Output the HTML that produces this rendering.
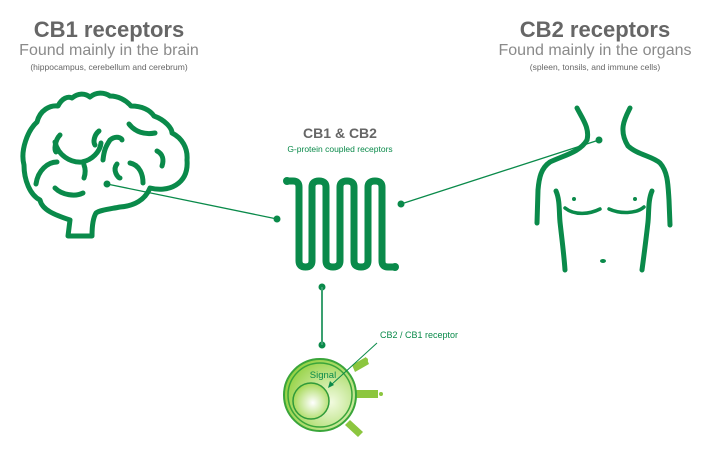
<!DOCTYPE html>
<html><head><style>
body{margin:0;background:#fff;width:706px;height:460px;overflow:hidden;font-family:"Liberation Sans",sans-serif}
</style></head><body>
<svg width="706" height="460" xmlns="http://www.w3.org/2000/svg">
<defs>
<radialGradient id="g1" cx="0.65" cy="0.6" r="0.7"><stop offset="0" stop-color="#f2fbe0"/><stop offset="1" stop-color="#8fcf3a"/></radialGradient>
<radialGradient id="g2" cx="0.55" cy="0.55" r="0.6"><stop offset="0" stop-color="#ffffff"/><stop offset="1" stop-color="#9fd64a"/></radialGradient>
</defs>
<g font-family="Liberation Sans, sans-serif" text-anchor="middle">
<text x="109" y="37" font-size="22" font-weight="bold" fill="#666">CB1 receptors</text>
<text x="109" y="55" font-size="16" fill="#8a8a8a">Found mainly in the brain</text>
<text x="109" y="70" font-size="8.5" fill="#666">(hippocampus, cerebellum and cerebrum)</text>
<text x="595" y="37" font-size="22" font-weight="bold" fill="#666">CB2 receptors</text>
<text x="595" y="55" font-size="16" fill="#8a8a8a">Found mainly in the organs</text>
<text x="595" y="70" font-size="8.5" fill="#666">(spleen, tonsils, and immune cells)</text>
<text x="340" y="138" font-size="14" font-weight="bold" fill="#666">CB1 &amp; CB2</text>
<text x="340" y="152" font-size="8.5" fill="#0a8a4a">G-protein coupled receptors</text>
</g>
<g fill="none" stroke="#0a8a4a" stroke-width="5" stroke-linecap="round" stroke-linejoin="round">
<path d="M68 236 L70 220 C55 215 42 210 40 200 C30 195 24 180 24 165 C20 150 28 130 37 122 C40 110 50 105 58 106 C62 98 68 96 72 98 C78 93 85 93 90 97 C96 92 104 92 110 96 C118 96 126 100 131 106 C142 106 150 110 154 116 C165 120 172 128 172 133 C182 138 188 148 187 160 C188 172 184 180 176 185 C168 190 158 190 150 188 C145 200 134 206 120 207 C110 209 100 210 96 213 C93 218 92 226 92 236 Z"/>
<path d="M36 184 C38 170 48 162 57 162"/>
<path d="M55 142 C58 155 70 163 82 162 C92 160 100 152 101 143"/>
<path d="M60 135 C55 140 54 150 56 152"/>
<path d="M99 131 C94 135 93 142 95 145"/>
<path d="M103 160 C104 150 106 146 110 140 C116 135 122 138 122 140"/>
<path d="M129 124 C135 132 145 135 155 133"/>
<path d="M117 164 C112 170 118 178 120 178"/>
<path d="M130 163 C140 165 143 175 143 183"/>
<path d="M55 188 C62 195 75 197 83 193"/>
<path d="M84 165 C86 170 85 175 84 178"/>
<path d="M157 151 C163 154 164 160 162 166"/>
<path d="M577 108 C582 118 590 128 587 140 C580 152 565 155 550 162 C541 168 539 178 538 190 L537 223"/>
<path d="M630 108 C625 118 618 130 628 146 C638 155 652 156 660 163 C668 172 668 185 669 200 L670 225"/>
<path d="M556 191 C560 200 559 212 560 222 C562 240 564 255 565 270"/>
<path d="M652 191 C648 200 649 212 648 222 C646 240 644 255 642 270"/>
<path d="M565 208 C575 216 590 214 600 209" stroke-width="3.5"/>
<path d="M609 209 C620 214 636 214 644 207" stroke-width="3.5"/>
<path d="M287 181 L293 181 Q299 181 299 187 L299 261 Q299 267 305.5 267 Q312 267 312 261 L312 187 Q312 181 319 181 Q326 181 326 187 L326 261 Q326 267 333 267 Q340 267 340 261 L340 187 Q340 181 347 181 Q354 181 354 187 L354 261 Q354 267 361 267 Q368 267 368 261 L368 187 Q368 181 375 181 Q382 181 382 187 L382 261 Q382 267 388 267 L395 267" stroke-width="7"/>
</g>
<g fill="#0a8a4a">
<circle cx="287" cy="181" r="4"/><circle cx="395" cy="267" r="4"/>
<circle cx="574" cy="199" r="2"/><circle cx="635" cy="199" r="2"/>
<ellipse cx="603" cy="261" rx="3" ry="2"/>
<circle cx="107" cy="184" r="3.5"/><circle cx="277" cy="219" r="3.5"/>
<circle cx="401" cy="204" r="3.5"/><circle cx="599" cy="140" r="3.5"/>
<circle cx="322" cy="287" r="3.5"/><circle cx="322" cy="345" r="3.5"/>
</g>
<g stroke="#0a8a4a" stroke-width="1.3" fill="none">
<line x1="107" y1="184" x2="277" y2="219"/>
<line x1="401" y1="204" x2="599" y2="140"/>
<line x1="322" y1="287" x2="322" y2="345" stroke="#3aa070" stroke-width="2"/>
</g>
<g>
<path d="M352 365 L366 357 L369 364 L355 372 Z" fill="#8cc63f"/>
<path d="M355 390 L378 390 L378 398 L355 398 Z" fill="#8cc63f"/>
<path d="M350 420 L363 432 L358 437 L345 425 Z" fill="#8cc63f"/>
<circle cx="366" cy="360" r="2" fill="#8cc63f"/><circle cx="381" cy="394" r="2" fill="#8cc63f"/>
<circle cx="320" cy="395" r="36" fill="url(#g1)" stroke="#3aa53a" stroke-width="2"/>
<circle cx="320" cy="395" r="32" fill="none" stroke="#3aa53a" stroke-width="1.5"/>
<circle cx="311" cy="401" r="18" fill="url(#g2)" stroke="#2f9a3a" stroke-width="1.5"/>
<text x="323" y="378" font-size="9.5" text-anchor="middle" fill="#0a8a4a" font-family="Liberation Sans, sans-serif">Signal</text>
<line x1="377" y1="343" x2="331" y2="385" stroke="#0a8a4a" stroke-width="1"/>
<path d="M328 388 L330 381 L334 385 Z" fill="#0a8a4a"/>
<text x="380" y="338" font-size="9" fill="#0a8a4a" font-family="Liberation Sans, sans-serif">CB2 / CB1 receptor</text>
</g>
</svg>
</body></html>
